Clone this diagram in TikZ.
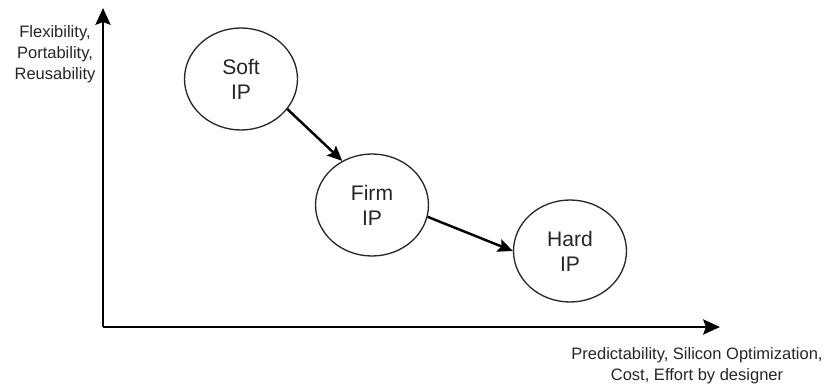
\documentclass[tikz,border=0pt]{standalone}
\usepackage{fontspec}
\setmainfont{Liberation Sans}
\usetikzlibrary{arrows.meta, shapes.geometric}
\tikzset{
  ipcircle/.style={ellipse, draw=black!85, line width=0.75pt, fill=white, align=center,
    inner sep=0pt, minimum width=2.26cm, minimum height=2.04cm,
    font=\fontsize{12}{14.2}\selectfont, text=black!85},
  axisarrow/.style={-{Stealth[length=9.5pt, width=8.5pt, inset=1.5pt]}, line width=1.6pt},
  ipflow/.style={-{Stealth[length=8.5pt, width=7.5pt, inset=1.5pt]}, line width=1.4pt},
  axislabel/.style={font=\fontsize{9.4}{12}\selectfont, text=black!85, align=center, inner sep=0pt},
}

\begin{document}
\begin{tikzpicture}[x=0.02cm, y=-0.02cm]
  \useasboundingbox (0,0) rectangle (825,385);
  \coordinate (origin) at (103,327);
  \coordinate (ytop) at (103,8);
  \coordinate (xend) at (720,327);
  \draw[axisarrow] (origin) -- (ytop);
  \draw[axisarrow] (origin) -- (xend);
  \node[axislabel] (ylab) at (55,54) {Flexibility,\\Portability,\\Reusability};
  \node[axislabel] (xlab) at (697,366) {Predictability, Silicon Optimization,\\Cost, Effort by designer};
  \node[ipcircle] (soft) at (241,79) {Soft\\IP};
  \node[ipcircle] (firm) at (372,205) {Firm\\IP};
  \node[ipcircle] (hard) at (570,251) {Hard\\IP};
  \draw[ipflow] (soft.-33) -- (firm.124);
  \draw[ipflow] (firm.-12) -- (hard.west);
\end{tikzpicture}
\end{document}
